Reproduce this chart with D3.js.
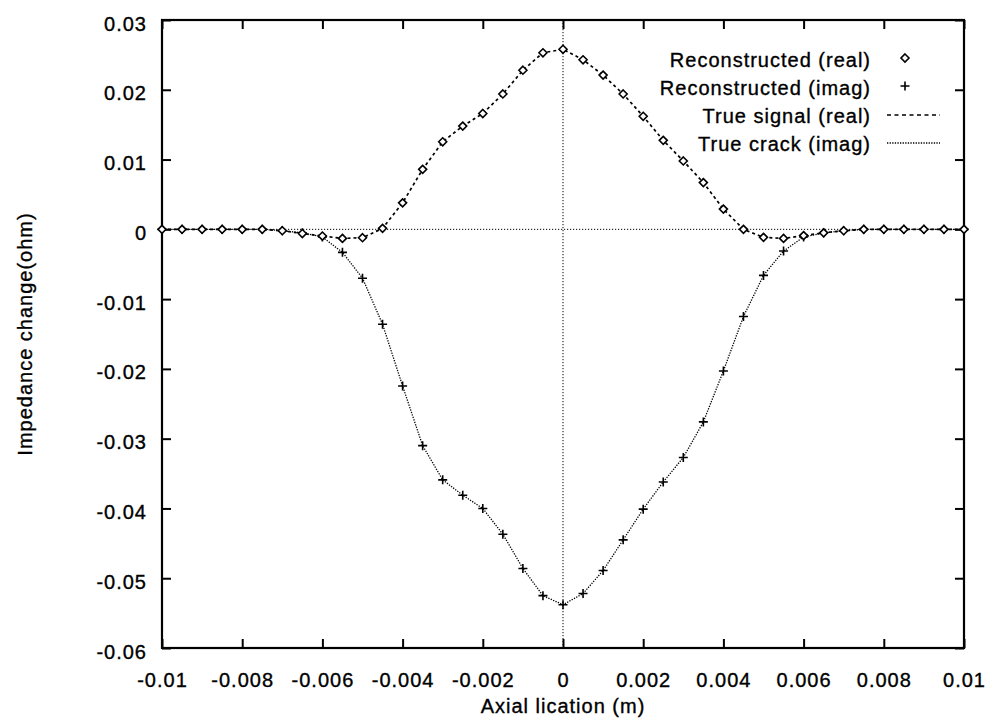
<!DOCTYPE html>
<html>
<head>
<meta charset="utf-8">
<script src="https://cdn.jsdelivr.net/npm/d3@7"></script>
<style>
  body { margin: 0; background: #fff; }
  text { font-family: "Liberation Sans", Arial, sans-serif; font-size: 20px; letter-spacing: 1px; fill: #000; stroke: #000; stroke-width: 0.35px; }
</style>
</head>
<body>
<svg width="990" height="724"></svg>
<script>
// axial positions (m), one sample every 0.5 mm
var xs = [-0.01, -0.0095, -0.009, -0.0085, -0.008, -0.0075, -0.007, -0.0065, -0.006, -0.0055,
          -0.005, -0.0045, -0.004, -0.0035, -0.003, -0.0025, -0.002, -0.0015, -0.001, -0.0005,
          0, 0.0005, 0.001, 0.0015, 0.002, 0.0025, 0.003, 0.0035, 0.004, 0.0045,
          0.005, 0.0055, 0.006, 0.0065, 0.007, 0.0075, 0.008, 0.0085, 0.009, 0.0095, 0.01]

// reconstructed real part
var recReal = [0, 0, 0, 0, 0, 0, -0.0002, -0.0006, -0.00096, -0.0013,
               -0.0012, 0.00014, 0.0038, 0.0086, 0.01255, 0.0148, 0.0166, 0.0194, 0.0228, 0.0253,
               0.0258, 0.0243, 0.0221, 0.0194, 0.0162, 0.01275, 0.0098, 0.0067, 0.0029, 0.0,
               -0.00115, -0.0013, -0.0009, -0.0005, -0.0002, 0, 0, 0, 0, 0, 0]

// reconstructed imaginary part
var recImag = [0, 0, 0, 0, 0, 0, -0.0002, -0.0005, -0.0011, -0.0033,
               -0.0070, -0.0136, -0.02245, -0.031, -0.0359, -0.0381, -0.0400, -0.0437, -0.0486, -0.0525,
               -0.0538, -0.0522, -0.0489, -0.0445, -0.0401, -0.0362, -0.0327, -0.0276, -0.0203, -0.0125,
               -0.0066, -0.0031, -0.0011, -0.0005, -0.0002, 0, 0, 0, 0, 0, 0]

// true curves (they sit right on the reconstructed points)
var trueReal = recReal.slice()
var trueImag = recImag.slice()

var xTicks = [-0.01, -0.008, -0.006, -0.004, -0.002, 0, 0.002, 0.004, 0.006, 0.008, 0.01]
var yTicks = [-0.06, -0.05, -0.04, -0.03, -0.02, -0.01, 0, 0.01, 0.02, 0.03]

var legendNames = ['Reconstructed (real)', 'Reconstructed (imag)', 'True signal (real)', 'True crack (imag)']

var svg = d3.select('svg')
var pLeft = 162, pRight = 964, pTop = 20, pBottom = 648

var mapX = d3.scaleLinear().domain([-0.01, 0.01]).range([pLeft, pRight])
var mapY = d3.scaleLinear().domain([-0.06, 0.03]).range([pBottom, pTop])

var fmt = function(d){ return String(+d.toFixed(4)) }

// zero axes (dotted)
svg.append('line')
   .attr('x1', pLeft).attr('x2', pRight)
   .attr('y1', mapY(0)).attr('y2', mapY(0))
   .attr('stroke', '#000').attr('stroke-width', 1).attr('stroke-dasharray', '1.2,1.8')
svg.append('line')
   .attr('x1', mapX(0)).attr('x2', mapX(0))
   .attr('y1', pTop).attr('y2', pBottom)
   .attr('stroke', '#000').attr('stroke-width', 1).attr('stroke-dasharray', '1.2,1.8')

// axes with inward ticks
var xAxis = d3.axisBottom(mapX).tickValues(xTicks).tickSizeInner(-9).tickSizeOuter(0).tickPadding(25).tickFormat(fmt)
var yAxis = d3.axisLeft(mapY).tickValues(yTicks).tickSizeInner(-9).tickSizeOuter(0).tickPadding(15).tickFormat(fmt)
var xTop = d3.axisTop(mapX).tickValues(xTicks).tickSizeInner(-9).tickSizeOuter(0).tickFormat('')
var yRight = d3.axisRight(mapY).tickValues(yTicks).tickSizeInner(-9).tickSizeOuter(0).tickFormat('')

function styleAxis(g){
    g.attr('font-family', null).attr('font-size', null)
    g.select('.domain').remove()
    g.selectAll('line').attr('stroke', '#000').attr('stroke-width', 2)
}

svg.append('g').attr('transform', 'translate(0,' + pBottom + ')').call(xAxis).call(styleAxis)
svg.append('g').attr('transform', 'translate(' + pLeft + ',0)').call(yAxis).call(styleAxis)
   .selectAll('text').attr('dy', '0.5em')
svg.append('g').attr('transform', 'translate(0,' + pTop + ')').call(xTop).call(styleAxis)
svg.append('g').attr('transform', 'translate(' + pRight + ',0)').call(yRight).call(styleAxis)

// frame
svg.append('rect')
   .attr('x', pLeft).attr('y', pTop)
   .attr('width', pRight - pLeft).attr('height', pBottom - pTop)
   .attr('fill', 'none').attr('stroke', '#000').attr('stroke-width', 2.2)

// curves
var line = function(vals){
    return d3.line()
             .x(function(d, i){ return mapX(xs[i]) })
             .y(function(d){ return mapY(d) })(vals)
}

svg.append('path').attr('d', line(trueImag))
   .attr('fill', 'none').attr('stroke', '#000').attr('stroke-width', 1.3).attr('stroke-dasharray', '1.3,1.3')
svg.append('path').attr('d', line(trueReal))
   .attr('fill', 'none').attr('stroke', '#000').attr('stroke-width', 1.7).attr('stroke-dasharray', '3,3')

var diamond = 'M0,-4L4,0L0,4L-4,0Z'
var plus = 'M-4.5,0H4.5M0,-4.5V4.5'

svg.selectAll('.plus')
   .data(recImag)
   .enter()
   .append('path')
   .attr('class', 'plus')
   .attr('d', plus)
   .attr('transform', function(d, i){ return 'translate(' + mapX(xs[i]) + ',' + mapY(d) + ')' })
   .attr('stroke', '#000').attr('stroke-width', 1.6).attr('fill', 'none')

svg.selectAll('.diam')
   .data(recReal)
   .enter()
   .append('path')
   .attr('class', 'diam')
   .attr('d', diamond)
   .attr('transform', function(d, i){ return 'translate(' + mapX(xs[i]) + ',' + mapY(d) + ')' })
   .attr('stroke', '#000').attr('stroke-width', 1.6).attr('fill', '#fff')

// legend
var legY = [67, 95, 123, 151]
svg.selectAll('.leg')
   .data(legendNames)
   .enter()
   .append('text')
   .attr('class', 'leg')
   .attr('x', 871)
   .attr('y', function(d, i){ return legY[i] })
   .attr('text-anchor', 'end')
   .text(function(d){ return d })

svg.append('path').attr('d', diamond).attr('transform', 'translate(905,58)')
   .attr('stroke', '#000').attr('stroke-width', 1.6).attr('fill', '#fff')
svg.append('path').attr('d', plus).attr('transform', 'translate(905,86)')
   .attr('stroke', '#000').attr('stroke-width', 1.6).attr('fill', 'none')
svg.append('line').attr('x1', 887).attr('x2', 940).attr('y1', 115).attr('y2', 115)
   .attr('stroke', '#000').attr('stroke-width', 1.5).attr('stroke-dasharray', '4,3.5')
svg.append('line').attr('x1', 887).attr('x2', 940).attr('y1', 143).attr('y2', 143)
   .attr('stroke', '#000').attr('stroke-width', 1.3).attr('stroke-dasharray', '1.3,1.3')

// axis titles
svg.append('text')
   .attr('x', mapX(0)).attr('y', 713)
   .attr('text-anchor', 'middle')
   .text('Axial lication (m)')
svg.append('text')
   .attr('transform', 'translate(32,' + ((pTop + pBottom) / 2) + ') rotate(-90)')
   .attr('text-anchor', 'middle')
   .text('Impedance change(ohm)')
</script>
</body>
</html>
